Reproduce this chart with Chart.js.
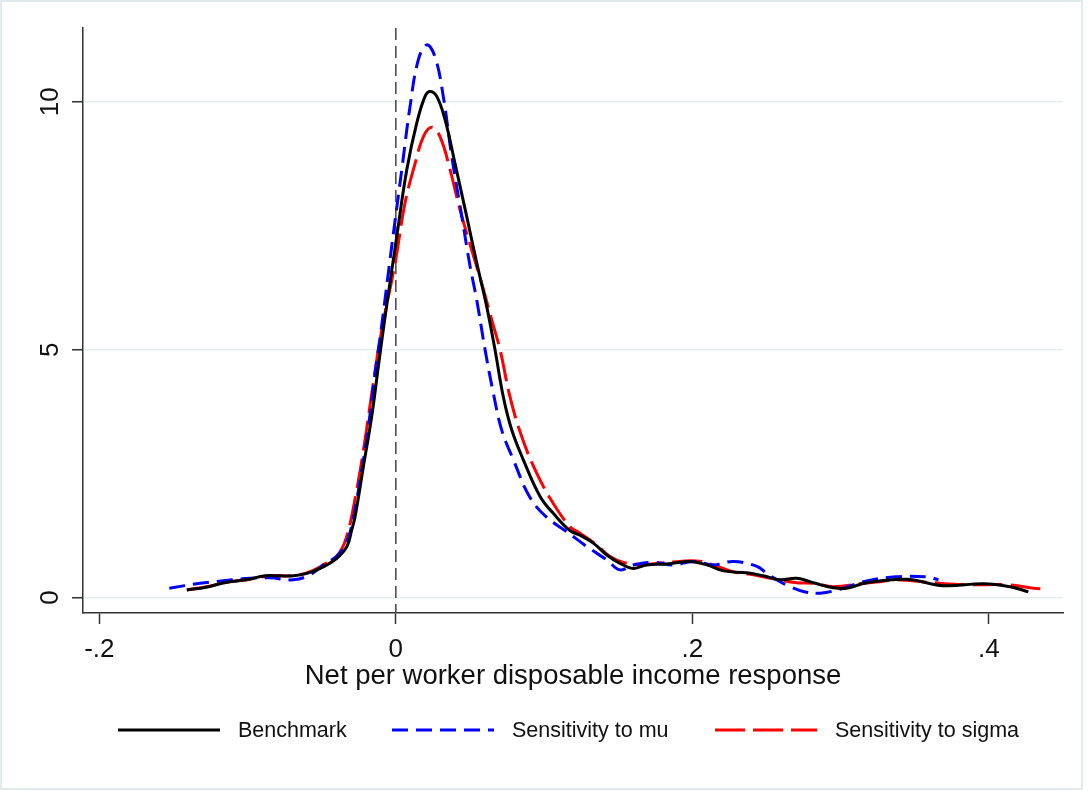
<!DOCTYPE html>
<html>
<head>
<meta charset="utf-8">
<script src="https://cdn.jsdelivr.net/npm/chart.js@4.4.1/dist/chart.umd.min.js"></script>
<style>
  body { margin: 0; background: #fff; }
  #chart { display: block; }
</style>
</head>
<body>
<canvas id="chart" width="1091" height="791"></canvas>
<script>
// Series names (legend)
const seriesNames = ["Benchmark", "Sensitivity to mu", "Sensitivity to sigma"];

// Axis ticks
const xTicks = [-0.2, 0, 0.2, 0.4];
const yTicks = [0, 5, 10];

// Benchmark density
const benchX = [-0.141, -0.128, -0.114, -0.101, -0.088, -0.078, -0.069, -0.060, -0.051, -0.040, -0.033, -0.0297, -0.0275,
  -0.0219, -0.0163, -0.0118, -0.0078, 0.0006, 0.0074, 0.0141, 0.0197, 0.0231, 0.0276, 0.0332, 0.0399, 0.0478, 0.0546,
  0.0613, 0.0669, 0.0725, 0.0782, 0.086, 0.0973, 0.1062, 0.1175, 0.1242, 0.1332, 0.1423, 0.1512, 0.1602, 0.1692, 0.1827,
  0.1985, 0.2097, 0.2209, 0.2367, 0.2479, 0.2592, 0.2704, 0.2816, 0.2951, 0.304, 0.3176, 0.3446, 0.3693, 0.3963, 0.4143, 0.4266];
const benchY = [0.155, 0.21, 0.31, 0.36, 0.44, 0.44, 0.44, 0.49, 0.59, 0.79, 1.03, 1.37, 1.63,
  2.64, 3.65, 4.66, 5.55, 7.28, 8.63, 9.57, 10.11, 10.21, 10.11, 9.64, 8.76, 7.69, 6.75,
  5.87, 5.0, 4.05, 3.38, 2.78, 2.04, 1.70, 1.35, 1.26, 1.10, 0.86, 0.69, 0.59, 0.66, 0.68,
  0.73, 0.66, 0.54, 0.50, 0.44, 0.36, 0.39, 0.30, 0.20, 0.19, 0.30, 0.37, 0.24, 0.28, 0.22, 0.12];

// Sensitivity to mu
const muX = [-0.1528, -0.132, -0.1164, -0.0983, -0.0849, -0.0691, -0.0579, -0.0489, -0.040, -0.036, -0.031, -0.0241,
  -0.0185, -0.014, -0.0095, -0.0028, 0.004, 0.0096, 0.0152, 0.0208, 0.0264, 0.032, 0.0377, 0.0445, 0.0501, 0.0546,
  0.0602, 0.0658, 0.0714, 0.0793, 0.0905, 0.1018, 0.1153, 0.1288, 0.1423, 0.1512, 0.1602, 0.1737, 0.1872, 0.2007,
  0.2142, 0.2277, 0.2435, 0.2502, 0.258, 0.266, 0.2755, 0.2861, 0.2996, 0.3154, 0.3372, 0.3581, 0.366];
const muY = [0.19, 0.29, 0.34, 0.39, 0.40, 0.36, 0.46, 0.66, 0.83, 0.98, 1.30, 2.37,
  3.45, 4.53, 5.50, 7.08, 8.63, 9.91, 10.85, 11.15, 10.91, 10.11, 8.90, 7.69, 6.68, 6.0,
  5.0, 4.12, 3.38, 2.78, 2.02, 1.62, 1.33, 1.03, 0.76, 0.56, 0.66, 0.71, 0.66, 0.73,
  0.66, 0.73, 0.63, 0.49, 0.34, 0.22, 0.12, 0.09, 0.17, 0.32, 0.42, 0.42, 0.36];

// Sensitivity to sigma
const sigmaX = [-0.141, -0.1276, -0.114, -0.0983, -0.0849, -0.0714, -0.060, -0.0489, -0.040, -0.0335, -0.0264, -0.0208,
  -0.0152, -0.0095, -0.0005, 0.0062, 0.013, 0.0186, 0.0242, 0.0298, 0.0366, 0.0433, 0.0512, 0.0579, 0.0647, 0.0703,
  0.077, 0.0849, 0.095, 0.1062, 0.1175, 0.1242, 0.1355, 0.1445, 0.1535, 0.1647, 0.176, 0.1917, 0.203, 0.2142, 0.2277,
  0.2412, 0.2547, 0.2704, 0.2816, 0.2951, 0.3154, 0.3266, 0.3372, 0.3626, 0.3851, 0.412, 0.430, 0.439];
const sigmaY = [0.155, 0.22, 0.31, 0.37, 0.44, 0.44, 0.50, 0.66, 0.83, 1.2, 2.17, 3.18,
  4.33, 5.40, 6.75, 7.96, 8.76, 9.30, 9.49, 9.30, 8.63, 7.82, 7.01, 6.34, 5.6, 5.0,
  4.05, 3.25, 2.51, 1.90, 1.43, 1.30, 1.06, 0.83, 0.71, 0.67, 0.69, 0.73, 0.74, 0.66, 0.52,
  0.46, 0.38, 0.30, 0.29, 0.22, 0.29, 0.32, 0.36, 0.30, 0.26, 0.26, 0.19, 0.17];

function toPoints(xs, ys) {
  return xs.map((x, i) => ({ x: x, y: ys[i] }));
}

const FONT = "'Liberation Sans', Arial, sans-serif";
const AXIS = "#333333";

// Draws the frame, x=0 reference line, y tick labels, x title and legend
const stataBits = {
  id: "stataBits",
  beforeDatasetsDraw(chart) {
    const ctx = chart.ctx;
    const area = chart.chartArea;
    const xs = chart.scales.x;
    const x0 = xs.getPixelForValue(0);
    ctx.save();
    ctx.strokeStyle = "#444444";
    ctx.lineWidth = 1.5;
    ctx.setLineDash([12, 6]);
    ctx.beginPath();
    ctx.moveTo(x0, area.top);
    ctx.lineTo(x0, area.bottom);
    ctx.stroke();
    ctx.restore();
  },
  afterDraw(chart) {
    const ctx = chart.ctx;
    const ys = chart.scales.y;
    ctx.save();
    // outer frame
    ctx.strokeStyle = "#e3eaee";
    ctx.lineWidth = 2;
    ctx.strokeRect(1, 1, 1081, 788);

    // y tick labels, rotated
    ctx.fillStyle = "#111111";
    ctx.font = "26px " + FONT;
    ctx.textAlign = "center";
    ctx.textBaseline = "middle";
    yTicks.forEach(function (v) {
      ctx.save();
      ctx.translate(51, ys.getPixelForValue(v));
      ctx.rotate(-Math.PI / 2);
      ctx.fillText(String(v), 0, 0);
      ctx.restore();
    });

    // x title
    ctx.font = "27.5px " + FONT;
    ctx.fillText("Net per worker disposable income response", (chart.chartArea.left + chart.chartArea.right) / 2, 676);

    // legend
    const legendX = [118, 392, 715];
    ctx.font = "21.5px " + FONT;
    ctx.textAlign = "left";
    chart.data.datasets.forEach(function (ds, i) {
      ctx.save();
      ctx.strokeStyle = ds.borderColor;
      ctx.lineWidth = ds.borderWidth;
      ctx.setLineDash(ds.borderDash || []);
      ctx.beginPath();
      ctx.moveTo(legendX[i], 730);
      ctx.lineTo(legendX[i] + 102, 730);
      ctx.stroke();
      ctx.restore();
      ctx.fillText(ds.label, legendX[i] + 120, 731);
    });
    ctx.restore();
  },
};

const canvasRef = document.getElementById("chart");

let myChart = new Chart(canvasRef, {
  type: "line",
  data: {
    datasets: [
      {
        label: seriesNames[0],
        data: toPoints(benchX, benchY),
        borderColor: "#000000",
        borderWidth: 3,
        borderDash: [],
      },
      {
        label: seriesNames[1],
        data: toPoints(muX, muY),
        borderColor: "#0000ff",
        borderWidth: 3,
        borderDash: [16, 8],
      },
      {
        label: seriesNames[2],
        data: toPoints(sigmaX, sigmaY),
        borderColor: "#ff0000",
        borderWidth: 3,
        borderDash: [30, 8],
      },
    ],
  },
  options: {
    responsive: false,
    animation: false,
    elements: {
      point: { radius: 0 },
      line: { tension: 0.4, fill: false },
    },
    layout: {
      padding: { left: 0, top: 28, right: 28, bottom: 0 },
    },
    plugins: {
      legend: { display: false },
      tooltip: { enabled: false },
    },
    scales: {
      x: {
        type: "linear",
        min: -0.211,
        max: 0.45,
        afterBuildTicks: function (scale) {
          scale.ticks = xTicks.map((v) => ({ value: v }));
        },
        afterFit: function (scale) {
          scale.height = 178;
        },
        grid: {
          drawOnChartArea: false,
          drawTicks: true,
          tickLength: 11,
          tickColor: AXIS,
          tickWidth: 1.5,
        },
        border: { color: AXIS, width: 1.5 },
        ticks: {
          color: "#111111",
          font: { family: FONT, size: 26 },
          padding: 10,
          maxRotation: 0,
          autoSkip: false,
          callback: function (v) {
            if (v === 0) return "0";
            return v.toFixed(1).replace("0.", ".");
          },
        },
      },
      y: {
        type: "linear",
        min: -0.31,
        max: 11.49,
        afterBuildTicks: function (scale) {
          scale.ticks = yTicks.map((v) => ({ value: v }));
        },
        afterFit: function (scale) {
          scale.width = 83;
        },
        grid: {
          color: "#e6eef0",
          lineWidth: 1.5,
          drawTicks: true,
          tickLength: 11,
          tickColor: AXIS,
          tickWidth: 1.5,
        },
        border: { color: AXIS, width: 1.5 },
        ticks: { display: false },
      },
    },
  },
  plugins: [stataBits],
});
</script>
</body>
</html>
